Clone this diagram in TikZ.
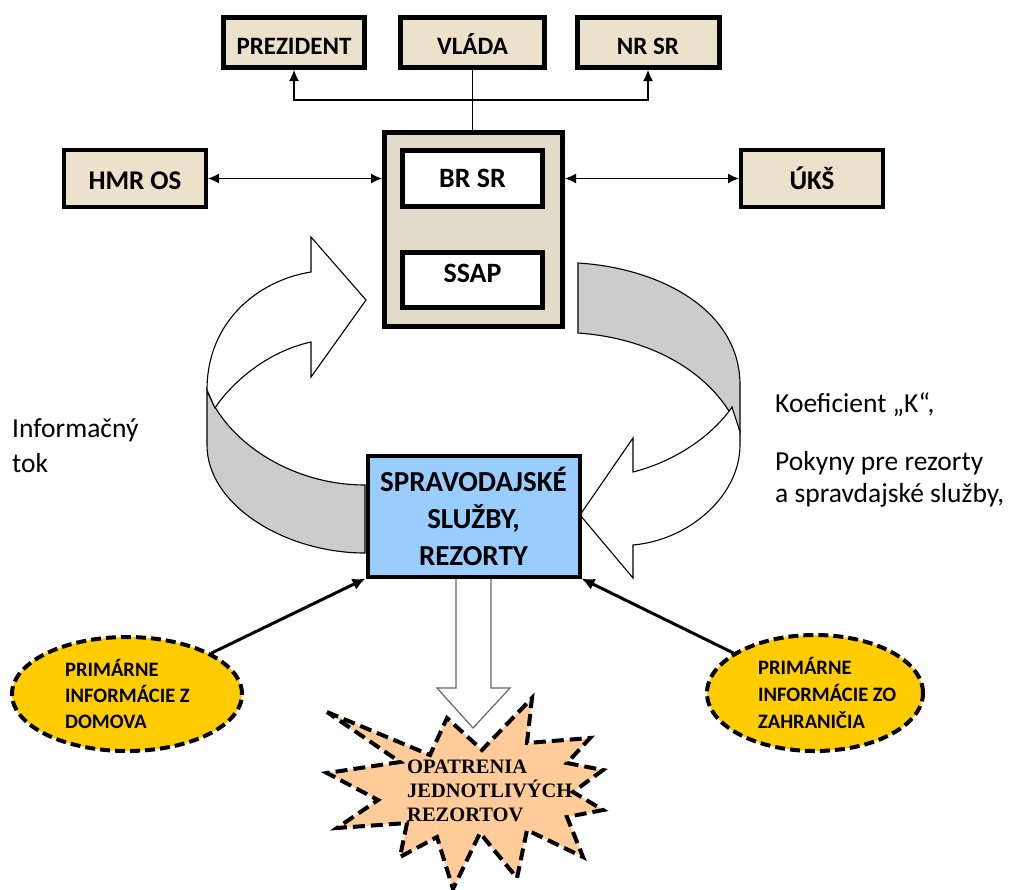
\documentclass[tikz,border=0pt]{standalone}
\usepackage{fontspec}
\setmainfont{Carlito}
\newfontfamily\tms{Liberation Serif}
\usetikzlibrary{shapes.geometric,arrows.meta,calc}
\definecolor{parch}{RGB}{236,225,203}
\definecolor{parchg}{RGB}{226,219,201}
\definecolor{skyb}{RGB}{153,204,255}
\definecolor{band}{RGB}{204,204,204}
\definecolor{gold}{RGB}{255,204,0}
\definecolor{peach}{RGB}{255,204,153}
\begin{document}
\begin{tikzpicture}[x=1pt,y=-1pt,
 every node/.style={inner sep=0pt},
 conn/.style={line width=1.1pt},
 arr/.style={line width=1.1pt,-{Latex[length=11pt,width=10pt]}},
 darr/.style={line width=1.1pt,{Latex[length=11pt,width=10pt]}-{Latex[length=11pt,width=10pt]}},
 bigarr/.style={line width=3pt,-{Latex[length=13pt,width=12pt]}},
 topbox/.style={draw,line width=5pt,fill=parch,minimum height=50pt,text height=23pt,text depth=0pt,font=\fontsize{25}{28}\selectfont\bfseries},
 sidebox/.style={draw,line width=4pt,fill=parch,minimum width=142pt,minimum height=57pt,text height=22pt,text depth=0pt,font=\fontsize{27}{32}\selectfont\bfseries},
 innerbox/.style={draw,line width=4.5pt,fill=white,minimum width=140pt,text height=18pt,text depth=0pt,font=\fontsize{28}{32}\selectfont\bfseries},
 ell/.style={draw,ellipse,dash pattern=on 10pt off 5pt,line width=4pt,fill=gold},
 elltext/.style={anchor=base west,font=\fontsize{20.5}{24}\selectfont\bfseries},
 plain/.style={anchor=base west,font=\fontsize{27.5}{32}\selectfont},
 startext/.style={anchor=base west,font=\fontsize{20.5}{24}\selectfont\tms\bfseries},
 ribbon/.style={line width=1.1pt}
]
\useasboundingbox (0,0) rectangle (1014,889);

% star
\draw[fill=peach,line width=4pt,dash pattern=on 12pt off 6pt]
 (327,712) -- (430,755) -- (447,718) -- (482,750) -- (532,698) -- (527,743)
 -- (590,738) -- (567,763) -- (603,770) -- (573,792) -- (603,810) -- (567,817)
 -- (583,857) -- (527,830) -- (517,878) -- (480,833) -- (453,889) -- (437,837)
 -- (400,857) -- (407,823) -- (337,828) -- (378,800) -- (327,773) -- (400,762) -- cycle;
\node[startext] (st1) at (407,773) {OPATRENIA};
\node[startext] (st2) at (407,797) {JEDNOTLIVÝCH};
\node[startext] (st3) at (407,821) {REZORTOV};

% down block arrow
\draw[line width=1.2pt,draw=black!60,fill=white]
 (456,579) -- (456,688) -- (437,688) -- (473,728) -- (510,688) -- (491,688) -- (491,579);

% left ribbon arrow
\draw[ribbon,fill=band] (207,390) .. controls (225,440) and (290,485) .. (365,485)
 -- (365,553) .. controls (285,553) and (207,505) .. (207,445) -- cycle;
\draw[ribbon,fill=white] (207,390) .. controls (207,320) and (260,280) .. (311,272)
 -- (311,237) -- (366,300) -- (311,377) -- (311,342)
 .. controls (265,352) and (230,385) .. (215,408) -- cycle;

% right ribbon arrow
\draw[ribbon,fill=band] (578,263) .. controls (660,268) and (740,310) .. (740,385)
 -- (740,432) .. controls (715,372) and (650,338) .. (578,333) -- cycle;
\draw[ribbon,fill=white] (732,407) -- (740,432) -- (740,445)
 .. controls (740,495) and (690,540) .. (633,545) -- (633,578) -- (580,515)
 -- (633,438) -- (633,472) .. controls (680,460) and (715,432) .. (732,407) -- cycle;

% top boxes
\node[topbox,minimum width=141pt] (prez) at (294,42.5) {PREZIDENT};
\node[topbox,minimum width=144pt] (vlada) at (472.5,42.5) {VLÁDA};
\node[topbox,minimum width=142pt] (nrsr) at (648,42.5) {NR SR};

% container
\node[draw,line width=5pt,fill=parchg,minimum width=178pt,minimum height=194pt] (cont) at (473.5,229.5) {};
\node[innerbox,minimum height=56pt] (brsr) at (472.5,178.5) {BR SR};
\node[innerbox,minimum height=55pt,text height=4pt] (ssap) at (472.5,280) {SSAP};

% side boxes
\node[sidebox] (hmr) at (135,178.5) {HMR OS};
\node[sidebox] (uks) at (812,178.5) {ÚKŠ};

% top connectors
\coordinate (jn) at (472.5,100);
\draw[conn] (vlada.south) -- (vlada.south |- cont.north);
\draw[arr] (jn) -| (prez.south);
\draw[arr] (jn) -| (nrsr.south);
\draw[darr] (hmr.east) -- (hmr.east -| cont.west);
\draw[darr] (uks.west) -- (uks.west -| cont.east);

% blue box
\node[draw,line width=4pt,fill=skyb,minimum width=212pt,minimum height=121pt,align=center,
 font=\fontsize{29}{37}\selectfont\bfseries] (ss) at (473.5,516) {SPRAVODAJSKÉ\\SLUŽBY,\\REZORTY};

% ellipses
\node[ell,minimum width=230pt,minimum height=114pt] (dom) at (127,694) {};
\node[elltext] (d1) at (65,676) {PRIMÁRNE};
\node[elltext] (d2) at (65,702) {INFORMÁCIE Z};
\node[elltext] (d3) at (65,728) {DOMOVA};
\node[ell,minimum width=216pt,minimum height=116pt] (zahr) at (815,693) {};
\node[elltext] (z1) at (758,674) {PRIMÁRNE};
\node[elltext] (z2) at (758,701) {INFORMÁCIE ZO};
\node[elltext] (z3) at (758,728) {ZAHRANIČIA};

\draw[bigarr] (dom) -- (ss.south west);
\draw[bigarr] (zahr) -- (ss.south east);

% free texts
\node[plain] (k1) at (775,412) {Koeficient „K“,};
\node[plain] (k2) at (775,470) {Pokyny pre rezorty};
\node[plain] (k3) at (775,502) {a spravdajské služby,};
\node[plain] (i1) at (12,437) {Informačný};
\node[plain] (i2) at (12,472) {tok};
\end{tikzpicture}
\end{document}
